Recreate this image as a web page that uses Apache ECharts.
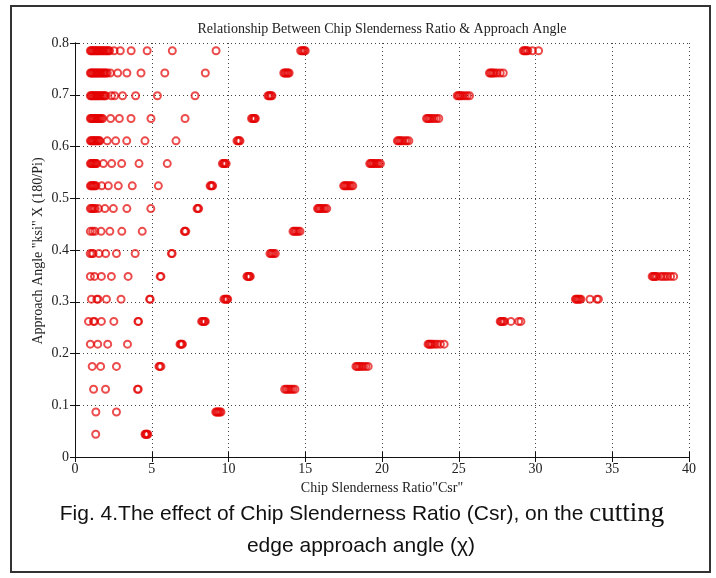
<!DOCTYPE html>
<html>
<head>
<meta charset="utf-8">
<script src="https://cdn.jsdelivr.net/npm/echarts@6/dist/echarts.min.js"></script>
<style>
  html, body { margin: 0; padding: 0; background: #fff; }
  #chart { width: 716px; height: 578px; }
</style>
</head>
<body>
<div id="chart"></div>
<script>
// approach angle levels (rad), bottom to top
const angleLevels = [0.044, 0.087, 0.131, 0.175, 0.218, 0.262, 0.305, 0.349, 0.393,
  0.436, 0.480, 0.524, 0.567, 0.611, 0.654, 0.698, 0.742, 0.785]

// chip slenderness ratio (same order as angleLevels)
const csrValues = [
  [1.35, 4.56, 4.6, 4.65, 4.7, 4.74],
  [1.36, 2.7, 9.17, 9.23, 9.3, 9.36, 9.44, 9.51],
  [1.21, 1.99, 4.07, 4.12, 13.66, 13.76, 13.86, 13.97, 14.08, 14.2, 14.33],
  [1.12, 1.67, 2.7, 5.47, 5.53, 5.6, 18.3, 18.38, 18.47, 18.56, 18.68, 18.8, 18.95, 19.1],
  [1.0, 1.48, 2.13, 3.42, 6.84, 6.89, 6.95, 7.0, 23.0, 23.07, 23.14, 23.22, 23.3, 23.45, 23.6, 23.8, 24.05],
  [0.88, 1.2, 1.27, 1.72, 2.53, 4.1, 4.14, 8.25, 8.31, 8.38, 8.44, 8.49, 27.7, 27.76, 27.83, 27.9, 27.98, 28.4, 28.9, 29.05],
  [1.07, 1.42, 1.5, 2.05, 3.0, 4.86, 4.9, 9.7, 9.77, 9.84, 9.9, 9.95, 32.6, 32.66, 32.73, 32.8, 32.88, 32.96, 33.55, 34.0, 34.1],
  [1.0, 1.27, 1.72, 2.37, 3.46, 5.55, 5.6, 11.2, 11.26, 11.32, 11.37, 11.42, 37.6, 37.67, 37.74, 37.82, 37.9, 38.15, 38.3, 38.45, 38.6, 38.8, 39.0],
  [0.99, 1.1, 1.18, 1.56, 2.0, 2.7, 3.92, 6.28, 6.33, 12.7, 12.78, 12.86, 12.95, 13.05],
  [1.0, 1.15, 1.3, 1.7, 2.27, 3.05, 4.38, 7.12, 7.17, 7.22, 14.2, 14.28, 14.36, 14.45, 14.55, 14.66],
  [1.0, 1.08, 1.16, 1.24, 1.32, 1.52, 1.95, 2.5, 3.38, 4.94, 7.95, 8.0, 8.06, 15.8, 15.86, 15.93, 16.0, 16.1, 16.2, 16.3, 16.4],
  [1.0, 1.06, 1.12, 1.18, 1.24, 1.3, 1.37, 1.74, 2.17, 2.82, 3.73, 5.43, 8.8, 8.86, 8.92, 8.97, 17.5, 17.57, 17.64, 17.72, 17.8, 17.9, 18.0, 18.1],
  [1.0, 1.06, 1.12, 1.18, 1.24, 1.3, 1.36, 1.42, 1.85, 2.39, 3.04, 4.17, 6.01, 9.6, 9.67, 9.73, 9.79, 9.85, 19.2, 19.27, 19.34, 19.42, 19.5, 19.6, 19.7, 19.8, 19.9],
  [1.0, 1.06, 1.12, 1.18, 1.24, 1.3, 1.36, 1.43, 1.5, 1.56, 1.62, 2.1, 2.65, 3.37, 4.56, 6.58, 10.55, 10.62, 10.69, 10.75, 21.0, 21.08, 21.16, 21.25, 21.35, 21.5, 21.62, 21.75],
  [1.0, 1.06, 1.12, 1.18, 1.24, 1.3, 1.37, 1.44, 1.5, 1.57, 1.64, 1.72, 1.8, 2.32, 2.89, 3.65, 4.95, 7.17, 11.5, 11.57, 11.64, 11.7, 11.75, 22.9, 22.98, 23.06, 23.15, 23.25, 23.4, 23.55, 23.7],
  [1.0, 1.06, 1.12, 1.19, 1.26, 1.33, 1.4, 1.47, 1.54, 1.62, 1.7, 1.78, 1.86, 1.93, 2.0, 2.37, 2.58, 3.1, 3.95, 5.37, 7.82, 12.57, 12.64, 12.7, 12.77, 12.83, 24.9, 24.98, 25.06, 25.15, 25.25, 25.4, 25.55, 25.7],
  [1.0, 1.06, 1.12, 1.19, 1.26, 1.33, 1.4, 1.47, 1.54, 1.62, 1.7, 1.78, 1.86, 1.94, 2.02, 2.1, 2.3, 2.78, 3.38, 4.3, 5.85, 8.49, 13.6, 13.67, 13.74, 13.82, 13.88, 13.95, 27.0, 27.08, 27.16, 27.25, 27.35, 27.5, 27.7, 27.9],
  [1.0, 1.06, 1.12, 1.19, 1.26, 1.33, 1.4, 1.47, 1.54, 1.62, 1.7, 1.78, 1.86, 1.94, 2.02, 2.1, 2.18, 2.25, 2.55, 2.95, 3.66, 4.7, 6.34, 9.19, 14.7, 14.78, 14.86, 14.93, 15.0, 29.2, 29.27, 29.34, 29.42, 29.5, 29.8, 30.2]
]

const xTicks = { min: 0, max: 40, interval: 5 }
const yTicks = { min: 0, max: 0.8, interval: 0.1 }

const titleText = 'Relationship Between Chip Slenderness Ratio & Approach Angle'
const xName = 'Chip Slenderness Ratio"Csr"'
const yName = 'Approach Angle "ksi" X (180/Pi)'

const serif = '"Liberation Serif", "DejaVu Serif", serif'
const sans = '"Liberation Sans", Arial, sans-serif'

const points = []
csrValues.forEach((row, i) => {
  row.forEach(v => points.push([v, angleLevels[i]]))
})

const chart = echarts.init(document.getElementById('chart'), null, { renderer: 'canvas' })

// top / right axes only close the box and carry the inner ticks
const boxAxis = {
  axisLine: { show: true, lineStyle: { color: '#111', width: 1 } },
  axisTick: { show: true, inside: true, length: 5, lineStyle: { color: '#111' } },
  splitLine: { show: false },
  axisLabel: { show: false }
}

const option = {
  animation: false,
  backgroundColor: '#fff',
  grid: { left: 75, right: 27, top: 43, bottom: 121 },
  xAxis: [
    {
      type: 'value',
      min: xTicks.min, max: xTicks.max, interval: xTicks.interval,
      position: 'bottom',
      name: xName,
      nameLocation: 'middle',
      nameGap: 22,
      nameTextStyle: { fontFamily: serif, fontSize: 14, color: '#222' },
      axisLine: { show: true, onZero: false, lineStyle: { color: '#111', width: 1 } },
      axisTick: { show: true, inside: true, length: 5, lineStyle: { color: '#111' } },
      axisLabel: { fontFamily: serif, fontSize: 14, color: '#222', margin: 5 },
      splitLine: { show: true, lineStyle: { color: '#444', width: 1, type: [1, 3] } }
    },
    Object.assign({ type: 'value', min: xTicks.min, max: xTicks.max, interval: xTicks.interval, position: 'top' }, boxAxis)
  ],
  yAxis: [
    {
      type: 'value',
      min: yTicks.min, max: yTicks.max, interval: yTicks.interval,
      position: 'left',
      axisLine: { show: true, onZero: false, lineStyle: { color: '#111', width: 1 } },
      axisTick: { show: true, inside: true, length: 5, lineStyle: { color: '#111' } },
      axisLabel: {
        fontFamily: serif, fontSize: 14, color: '#222', margin: 6,
        formatter: v => (Math.round(v * 10) / 10).toString()
      },
      splitLine: { show: true, lineStyle: { color: '#444', width: 1, type: [1, 3] } }
    },
    Object.assign({ type: 'value', min: yTicks.min, max: yTicks.max, interval: yTicks.interval, position: 'right' }, boxAxis)
  ],
  series: [{
    type: 'scatter',
    xAxisIndex: 0,
    yAxisIndex: 0,
    data: points,
    symbol: 'circle',
    symbolSize: 7,
    itemStyle: {
      color: 'rgba(0,0,0,0)',
      borderColor: 'rgba(228,0,0,0.88)',
      borderWidth: 2
    },
    emphasis: { disabled: true }
  }],
  graphic: [
    {
      type: 'rect',
      shape: { x: 11, y: 6, width: 699, height: 566 },
      style: { fill: 'none', stroke: '#333', lineWidth: 2 },
      silent: true
    },
    {
      type: 'text',
      x: 382, y: 29,
      style: {
        text: titleText, fontFamily: serif, fontSize: 14, fill: '#222',
        textAlign: 'center', textVerticalAlign: 'middle'
      }
    },
    {
      // y axis title, drawn by hand so it sits close to the tick labels
      type: 'text',
      x: 38, y: 251,
      rotation: Math.PI / 2,
      style: {
        text: yName, fontFamily: serif, fontSize: 14, fill: '#222',
        textAlign: 'center', textVerticalAlign: 'middle'
      }
    },
    {
      type: 'text',
      x: 362, y: 514,
      style: {
        text: '{a|Fig. 4.The effect of Chip Slenderness Ratio (Csr), on the }{b|cutting}',
        textAlign: 'center', textVerticalAlign: 'middle',
        rich: {
          a: { fontFamily: sans, fontSize: 21, fill: '#111' },
          b: { fontFamily: serif, fontSize: 27, fill: '#111' }
        }
      }
    },
    {
      type: 'text',
      x: 361, y: 546,
      style: {
        text: 'edge approach angle (\u03c7)', fontFamily: sans, fontSize: 21, fill: '#111',
        textAlign: 'center', textVerticalAlign: 'middle'
      }
    }
  ]
}

chart.setOption(option)
</script>
</body>
</html>
